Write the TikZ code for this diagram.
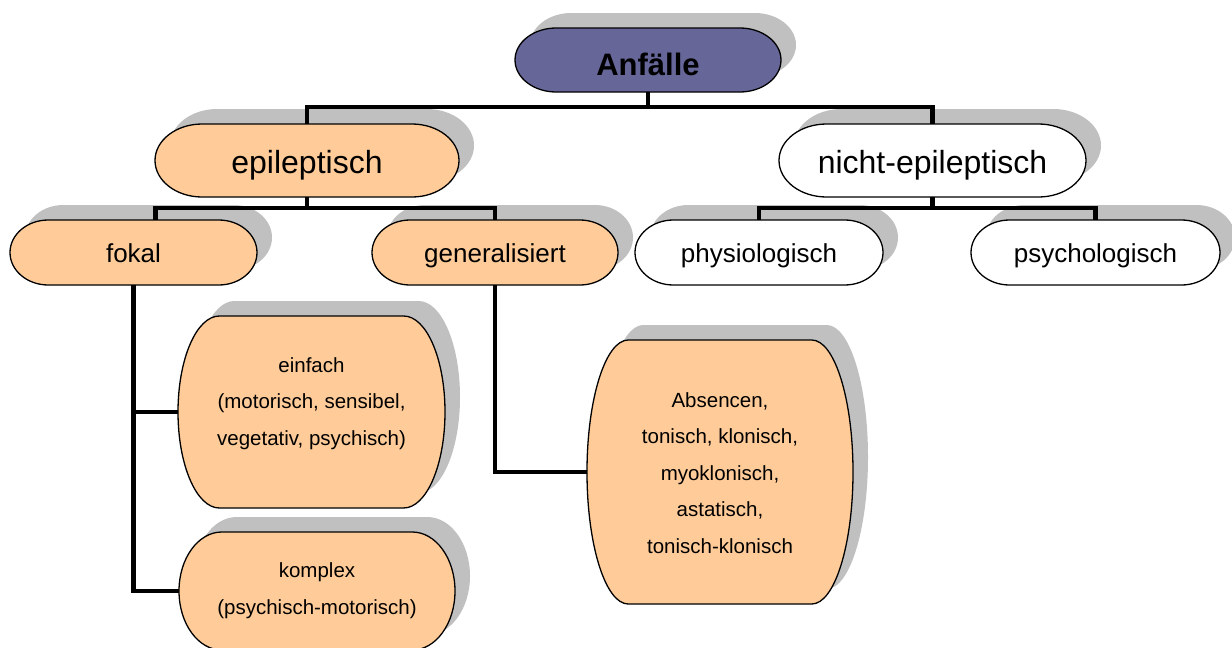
\documentclass[tikz,border=0pt]{standalone}
\usepackage{fontspec}
\setmainfont{Liberation Sans}
\usetikzlibrary{calc}
\definecolor{peach}{HTML}{FFCC99}
\definecolor{anfblue}{HTML}{666699}
\definecolor{shadowgray}{HTML}{C0C0C0}

\newcommand\tshape[4]{%
  \pgfmathsetmacro\tXa{#1}\pgfmathsetmacro\tYa{#2}%
  \pgfmathsetmacro\tXb{#3}\pgfmathsetmacro\tYb{#4}%
  \pgfmathsetmacro\tRx{0.155*(#3-#1)}\pgfmathsetmacro\tRy{(#4-#2)/2}%
  \pgfmathsetmacro\tYm{(#2+#4)/2}\pgfmathsetmacro\tXm{(#1+#3)/2}%
  \pgfmathsetmacro\tKx{0.5523*\tRx}\pgfmathsetmacro\tKy{0.5523*\tRy}%
  \pgfmathsetmacro\tW{#3-#1}\pgfmathsetmacro\tH{#4-#2}%
}
\newcommand\tpathdraw[5]{%
  \tshape{#1}{#2}{#3}{#4}%
  \path[#5] ({\tXa+\tRx},\tYa) -- ({\tXb-\tRx},\tYa)
    .. controls ({\tXb-\tRx+\tKx},\tYa) and (\tXb,{\tYm-\tKy}) .. (\tXb,\tYm)
    .. controls (\tXb,{\tYm+\tKy}) and ({\tXb-\tRx+\tKx},\tYb) .. ({\tXb-\tRx},\tYb)
    -- ({\tXa+\tRx},\tYb)
    .. controls ({\tXa+\tRx-\tKx},\tYb) and (\tXa,{\tYm+\tKy}) .. (\tXa,\tYm)
    .. controls (\tXa,{\tYm-\tKy}) and ({\tXa+\tRx-\tKx},\tYa) .. ({\tXa+\tRx},\tYa)
    -- cycle;%
}
\newcommand\tbox[6]{%
  \tpathdraw{#2}{#3}{#4}{#5}{#6}%
  \node[anchorbox, minimum width=\tW pt, minimum height=\tH pt] (#1) at (\tXm,\tYm) {};%
}
\newcommand\tshadow[4]{\tpathdraw{#1}{#2}{#3}{#4}{shadowst}}

\tikzset{
  shadowst/.style={fill=shadowgray, shift={(15,-15)}},
  boxline/.style={draw=black, line width=1.3pt, line join=round},
  anchorbox/.style={inner sep=0pt, outer sep=0pt, draw=none, rectangle},
  conn/.style={draw=black, line width=4.8pt, line join=miter},
  lvlzero/.style={inner sep=0pt, anchor=base, font=\fontsize{31}{36}\selectfont\bfseries},
  lvlone/.style={inner sep=0pt, anchor=base, font=\fontsize{32}{38}\selectfont},
  lvltwo/.style={inner sep=0pt, anchor=base, font=\fontsize{26}{30}\selectfont},
  lvlsmall/.style={inner sep=0pt, anchor=base, align=center, font=\fontsize{20.5}{36.5}\selectfont},
}

\begin{document}
\begin{tikzpicture}[x=1pt, y=-1pt]
\useasboundingbox (0,0) rectangle (1232,648);
\clip (0,0) rectangle (1232,648);

% shadows
\tshadow{515}{28}{781}{92}
\tshadow{155}{124}{459}{197}
\tshadow{779}{124}{1086}{197}
\tshadow{10}{220}{257}{285}
\tshadow{372}{220}{618}{285}
\tshadow{635}{220}{883}{285}
\tshadow{971}{220}{1220}{285}
\tshadow{178}{316}{445}{508}
\tshadow{179}{532}{455}{650}
\tshadow{587}{340}{853}{604}

% boxes
\tbox{anf}{515}{28}{781}{92}{fill=anfblue, boxline}
\tbox{epi}{155}{124}{459}{197}{fill=peach, boxline}
\tbox{nep}{779}{124}{1086}{197}{fill=white, boxline}
\tbox{fok}{10}{220}{257}{285}{fill=peach, boxline}
\tbox{gen}{372}{220}{618}{285}{fill=peach, boxline}
\tbox{phy}{635}{220}{883}{285}{fill=white, boxline}
\tbox{psy}{971}{220}{1220}{285}{fill=white, boxline}
\tbox{einf}{178}{316}{445}{508}{fill=peach, boxline}
\tbox{komp}{179}{532}{455}{650}{fill=peach, boxline}
\tbox{abs}{587}{340}{853}{604}{fill=peach, boxline}

% connectors
\coordinate (bar1) at (648,107);
\coordinate (bar2) at (307,208);
\coordinate (bar3) at (933,208);
\draw[conn] (anf.south) -- (anf.south |- bar1);
\draw[conn] (epi.north) |- (nep.north |- bar1) -- (nep.north);
\draw[conn] (epi.south) -- (epi.south |- bar2);
\draw[conn] ($(fok.north)+(22,0)$) |- (gen.north |- bar2) -- (gen.north);
\draw[conn] (nep.south) -- (nep.south |- bar3);
\draw[conn] (phy.north) |- (psy.north |- bar3) -- (psy.north);
\draw[conn] (fok.south) |- (einf.west);
\draw[conn] (fok.south) |- (komp.west);
\draw[conn] (gen.south) |- (abs.west);

% texts
\node[lvlzero] (t-anf) at (648,75) {Anfälle};
\node[lvlone] (t-epi) at (307,173) {epileptisch};
\node[lvlone] (t-nep) at (932.5,173) {nicht-epileptisch};
\node[lvltwo] (t-fok) at (133.5,262) {fokal};
\node[lvltwo] (t-gen) at (495,262) {generalisiert};
\node[lvltwo] (t-phy) at (759,262) {physiologisch};
\node[lvltwo] (t-psy) at (1095.5,262) {psychologisch};
\node[lvlsmall] (t-einf) at (311.5,445) {einfach\\(motorisch, sensibel,\\vegetativ, psychisch)};
\node[lvlsmall] (t-komp) at (317,614) {komplex\\(psychisch-motorisch)};
\node[lvlsmall] (t-abs) at (720,553) {Absencen,\\tonisch, klonisch,\\myoklonisch,\\astatisch,\\tonisch-klonisch};
\end{tikzpicture}
\end{document}
